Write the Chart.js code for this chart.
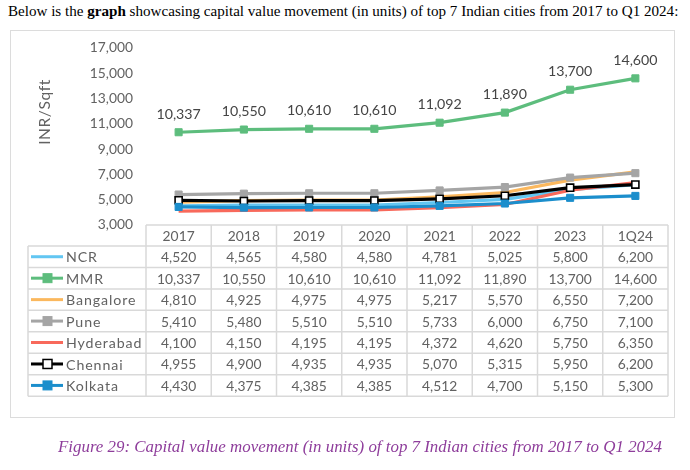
<!DOCTYPE html>
<html><head><meta charset="utf-8">
<script src="https://cdn.jsdelivr.net/npm/chart.js@4/dist/chart.umd.min.js"></script>
<style>
html,body{margin:0;padding:0;background:#fff;width:690px;height:470px;overflow:hidden}
#title{position:absolute;left:8px;top:3px;font-family:"Liberation Serif","Times New Roman",serif;font-size:15.1px;color:#000;white-space:nowrap}
#box{position:absolute;left:10px;top:30px;width:663px;height:386px;border:1.5px solid #dcdcdc}
#cap{position:absolute;left:58px;top:437px;font-family:"Liberation Serif","Times New Roman",serif;font-style:italic;font-size:16.9px;color:#8e3d9b;white-space:nowrap}
#wrap{position:absolute;left:0;top:0;width:690px;height:470px}
</style></head>
<body>
<div id="title">Below is the <b>graph</b> showcasing capital value movement (in units) of top 7 Indian cities from 2017 to Q1 2024:</div>
<div id="box"></div>
<div id="wrap"><canvas id="c"></canvas></div>
<div id="cap">Figure 29: Capital value movement (in units) of top 7 Indian cities from 2017 to Q1 2024</div>
<script>
const categories = ["2017","2018","2019","2020","2021","2022","2023","1Q24"];
const cityNames = ["NCR","MMR","Bangalore","Pune","Hyderabad","Chennai","Kolkata"];
const ncr       = [4520,4565,4580,4580,4781,5025,5800,6200];
const mmr       = [10337,10550,10610,10610,11092,11890,13700,14600];
const bangalore = [4810,4925,4975,4975,5217,5570,6550,7200];
const pune      = [5410,5480,5510,5510,5733,6000,6750,7100];
const hyderabad = [4100,4150,4195,4195,4372,4620,5750,6350];
const chennai   = [4955,4900,4935,4935,5070,5315,5950,6200];
const kolkata   = [4430,4375,4385,4385,4512,4700,5150,5300];
const yTicks = [3000,5000,7000,9000,11000,13000,15000,17000];
const yTitle = "INR/Sqft";

const seriesValues = [ncr,mmr,bangalore,pune,hyderabad,chennai,kolkata];
const colors = ["#62c6f2","#5dbd7d","#fbb85e","#a5a5a5","#f8695b","#000000","#1b8ecc"];
const markers = [false,true,false,true,false,true,true];
const markerFill = ["#62c6f2","#5dbd7d","#fbb85e","#a5a5a5","#f8695b","#ffffff","#1b8ecc"];
const FONT = "Lato, 'DejaVu Sans', sans-serif";
const TXT = "#626262";
const GRID = "#d9d9d9";

const datasets = cityNames.map((n,i)=>({
  label:n,
  data:seriesValues[i],
  borderColor:colors[i],
  backgroundColor:markerFill[i],
  pointBorderColor:colors[i],
  pointBackgroundColor:markerFill[i],
  borderWidth:3.2,
  pointStyle:'rect',
  pointRadius:markers[i]?5:0,
  pointBorderWidth:markers[i]?(i===5?1.6:1):0,
  tension:0,
  order:cityNames.length-i
}));

const tablePlugin = {
  id:'tablePlugin',
  afterDraw(chart){
    const ctx = chart.ctx;
    const xs = chart.scales.x;
    const n = categories.length;
    const left = xs.left, right = xs.right;
    const colW = (right-left)/n;
    const top = 225, hH = 21, rH = 21.45;
    const legL = 28;
    const bottom = top + hH + rH*cityNames.length;
    ctx.save();
    ctx.strokeStyle = GRID; ctx.lineWidth = 1.5;
    ctx.beginPath();
    ctx.moveTo(left,top); ctx.lineTo(right,top);
    for(let r=0;r<=cityNames.length;r++){
      const y = top+hH+r*rH;
      ctx.moveTo(legL,y); ctx.lineTo(right,y);
    }
    for(let k=0;k<=n;k++){
      const x = left+k*colW;
      ctx.moveTo(x,top); ctx.lineTo(x,bottom);
    }
    ctx.moveTo(legL,top+hH); ctx.lineTo(legL,bottom);
    ctx.stroke();
    ctx.fillStyle = TXT;
    ctx.font = "13.8px " + FONT;
    ctx.textAlign='center'; ctx.textBaseline='middle';
    categories.forEach((c,i)=>{
      ctx.fillText(c, xs.getPixelForValue(i), top+hH/2+1);
    });
    cityNames.forEach((name,r)=>{
      const yc = top+hH+r*rH+rH/2+1;
      ctx.textAlign='center';
      ctx.fillStyle = TXT;
      ctx.font = "13.8px " + FONT;
      seriesValues[r].forEach((v,i)=>{
        ctx.fillText(v.toLocaleString('en-US'), xs.getPixelForValue(i), yc);
      });
      // legend swatch
      ctx.strokeStyle = colors[r]; ctx.lineWidth = 3;
      ctx.beginPath(); ctx.moveTo(31,yc-1); ctx.lineTo(63,yc-1); ctx.stroke();
      if(markers[r]){
        ctx.fillStyle = markerFill[r];
        ctx.fillRect(43,yc-5.5,9,9);
        ctx.strokeStyle = colors[r]; ctx.lineWidth = r===5?1.5:1;
        ctx.strokeRect(43,yc-5.5,9,9);
      }
      ctx.fillStyle = TXT;
      ctx.textAlign='left';
      ctx.font = "14.2px " + FONT;
      if ('letterSpacing' in ctx) ctx.letterSpacing = '0.9px';
      ctx.fillText(name, 66, yc);
      if ('letterSpacing' in ctx) ctx.letterSpacing = '0px';
    });
    ctx.restore();
  }
};

const labelPlugin = {
  id:'labelPlugin',
  afterDatasetsDraw(chart){
    const ctx = chart.ctx;
    const meta = chart.getDatasetMeta(1);
    ctx.save();
    ctx.fillStyle = "#454545";
    ctx.font = "14.2px " + FONT;
    ctx.textAlign='center'; ctx.textBaseline='middle';
    meta.data.forEach((pt,i)=>{
      ctx.fillText(mmr[i].toLocaleString('en-US'), pt.x, pt.y-18);
    });
    // y axis title
    ctx.fillStyle = TXT;
    ctx.font = "15.5px " + FONT;
    if ('letterSpacing' in ctx) ctx.letterSpacing = '0.6px';
    ctx.translate(45,112);
    ctx.rotate(-Math.PI/2);
    ctx.fillText(yTitle,0,0);
    ctx.restore();
  }
};

new Chart(document.getElementById('c'),{
  type:'line',
  data:{labels:categories,datasets},
  options:{
    responsive:true, maintainAspectRatio:false, animation:false,
    layout:{padding:{left:30,right:22,top:48,bottom:245}},
    plugins:{legend:{display:false},tooltip:{enabled:false}},
    scales:{
      x:{type:'category',display:false,offset:true},
      y:{
        min:3000,max:17000,
        afterFit(s){s.width=116;},
        afterBuildTicks(s){s.ticks = yTicks.map(v=>({value:v}));},
        grid:{display:false,drawTicks:false},
        border:{display:false},
        ticks:{color:TXT,font:{family:FONT,size:13.8},padding:13,
          callback:v=>v.toLocaleString('en-US')}
      }
    }
  },
  plugins:[tablePlugin,labelPlugin]
});
</script>
</body></html>
